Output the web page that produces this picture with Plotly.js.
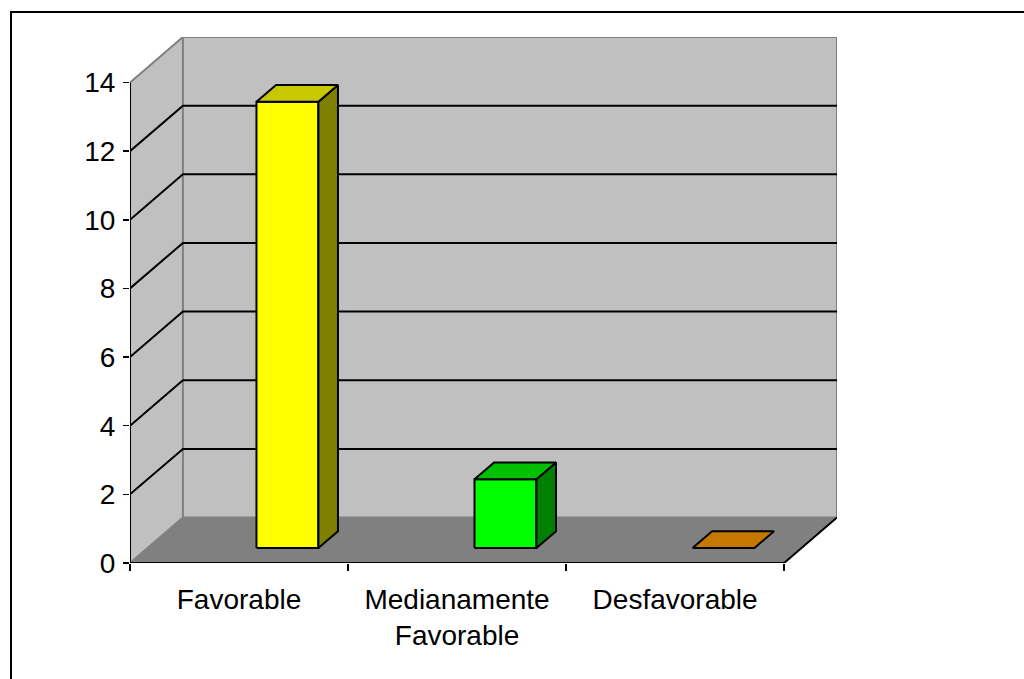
<!DOCTYPE html>
<html><head><meta charset="utf-8">
<script src="https://cdn.plot.ly/plotly-3.0.1.min.js"></script>
<style>
html,body{margin:0;padding:0;overflow:hidden;background:#fff}
#chart{width:1024px;height:679px}
.fr{position:absolute;background:#000;pointer-events:none}
#frameTop{left:10px;top:11px;width:1014px;height:2px}
#frameLeft{left:10px;top:11px;width:2px;height:668px}
</style>
</head><body><div id="chart"></div><div id="frameTop" class="fr"></div><div id="frameLeft" class="fr"></div>
<script>
// ---- data ----
const categories = ['Favorable', 'Medianamente<br>Favorable', 'Desfavorable'];
const values = [13, 2, 0];
const frontColors = ['#FFFF00', '#00FF00', '#FF9900'];
const sideColors = ['#808000', '#008000', '#804C00'];
const topColors = ['#C8C800', '#00C000', '#C47800'];
const yTicks = [0, 2, 4, 6, 8, 10, 12, 14];
const yMax = 14;

// ---- 3D geometry (axis units) ----
const DX = 0.2427, DY = 1.325;  // depth of the box
const F1 = 0.33, F2 = 0.70;     // bar front / back depth fraction
const W = 0.284;                // bar width
const X0 = -0.5, X1 = categories.length - 0.5;

const traces = [];
function poly(xs, ys, fill, lineColor, lineWidth) {
  traces.push({
    type: 'scatter', mode: 'lines', x: xs.concat([xs[0]]), y: ys.concat([ys[0]]),
    fill: 'toself', fillcolor: fill,
    line: {color: lineColor || 'rgba(0,0,0,0)', width: lineWidth || 0},
    hoverinfo: 'skip', showlegend: false
  });
}
function lines(xs, ys, color, width) {
  traces.push({type: 'scatter', mode: 'lines', x: xs, y: ys,
    line: {color: color, width: width}, hoverinfo: 'skip', showlegend: false, connectgaps: false});
}

// walls
poly([X0, X0, X0 + DX, X0 + DX], [0, yMax, yMax + DY, DY], '#C0C0C0');
poly([X0 + DX, X1 + DX, X1 + DX, X0 + DX], [DY, DY, yMax + DY, yMax + DY], '#C0C0C0');
poly([X0, X1, X1 + DX, X0 + DX], [0, 0, DY, DY], '#808080');

// gray wall edges
lines([X0, X0 + DX, X1 + DX, X1 + DX, X0 + DX, X0 + DX, null, X0, X0 + DX],
      [yMax, yMax + DY, yMax + DY, DY, DY, yMax + DY, null, 0, DY], '#808080', 2);

// gridlines
const gx = [], gy = [];
yTicks.forEach(v => {
  if (v === 0 || v === yMax) return;
  gx.push(X0, X0 + DX, X1 + DX, null);
  gy.push(v, v + DY, v + DY, null);
});
lines(gx, gy, '#000000', 2);

// black front edges
lines([X0, X0, null, X0, X1, X1 + DX], [yMax, 0, null, 0, 0, DY], '#000000', 2);

// bars
values.forEach((v, i) => {
  const xf = i + F1 * DX, xb = i + F2 * DX;
  const yf = F1 * DY, yb = F2 * DY;
  if (v > 0) {
    poly([xf, xf + W, xf + W, xf], [yf, yf, yf + v, yf + v], frontColors[i], '#000', 2);
    poly([xf + W, xb + W, xb + W, xf + W], [yf, yb, yb + v, yf + v], sideColors[i], '#000', 2);
  }
  poly([xf, xf + W, xb + W, xb], [yf + v, yf + v, yb + v, yb + v], topColors[i], '#000', 2);
});

// dummy trace for the label axis
traces.push({type: 'scatter', mode: 'markers', x: [0], y: [0], xaxis: 'x2', yaxis: 'y',
  marker: {opacity: 0}, hoverinfo: 'skip', showlegend: false});

const font = {family: 'Liberation Sans, Arial, sans-serif', size: 28, color: '#000'};
const layout = {
  width: 1024, height: 679,
  margin: {l: 130, r: 187, t: 37, b: 116},
  paper_bgcolor: '#fff', plot_bgcolor: 'rgba(0,0,0,0)',
  showlegend: false,
  xaxis: {type: 'linear', range: [X0, X1 + DX], tickvals: [-0.5, 0.5, 1.5, 2.5],
    showticklabels: false, ticks: 'outside', ticklen: 7, tickwidth: 1.5, tickcolor: '#000',
    showgrid: false, zeroline: false, showline: false, fixedrange: true},
  xaxis2: {type: 'linear', overlaying: 'x', anchor: 'y', side: 'bottom', range: [X0, X1 + DX],
    tickvals: categories.map((c, i) => i), ticktext: categories, ticks: '', ticklabelstandoff: 17,
    tickfont: font, showgrid: false, zeroline: false, showline: false, fixedrange: true},
  yaxis: {type: 'linear', range: [0, yMax + DY], tickvals: yTicks, ticks: 'outside', ticklen: 6,
    tickwidth: 1.5, tickcolor: '#000', tickfont: font, ticklabelstandoff: 2,
    showgrid: false, zeroline: false, showline: false, fixedrange: true}
};
Plotly.newPlot('chart', traces, layout, {staticPlot: true, displayModeBar: false});
</script>
</body></html>
